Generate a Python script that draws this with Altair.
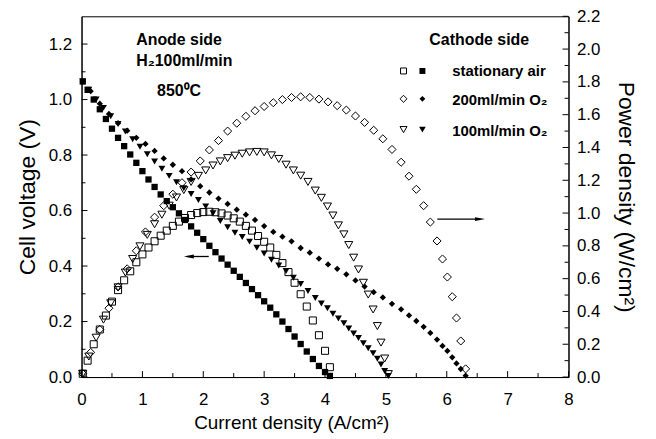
import altair as alt
import pandas as pd

FONT = "Liberation Sans"

series_names = ["stationary air", "200ml/min O2", "100ml/min O2"]

# ---- stationary air (squares) ----
air_i = [0.02, 0.1, 0.2, 0.3, 0.4, 0.5, 0.6, 0.7, 0.8, 0.9, 1.0, 1.1, 1.2, 1.3, 1.4,
         1.5, 1.6, 1.7, 1.8, 1.9, 2.0, 2.1, 2.2, 2.3, 2.4, 2.5, 2.6, 2.7, 2.8, 2.9,
         3.0, 3.1, 3.2, 3.3, 3.4, 3.5, 3.6, 3.7, 3.8, 3.9, 4.0, 4.08]
air_v = [1.065, 1.035, 1.0, 0.965, 0.93, 0.895, 0.862, 0.832, 0.802, 0.772, 0.742,
         0.712, 0.685, 0.658, 0.634, 0.612, 0.59, 0.566, 0.543, 0.52, 0.497, 0.473,
         0.45, 0.427, 0.405, 0.383, 0.361, 0.339, 0.317, 0.295, 0.273, 0.25, 0.226,
         0.2, 0.173, 0.146, 0.119, 0.092, 0.065, 0.04, 0.018, 0.004]
air_p = [0.02, 0.10, 0.2, 0.29, 0.375, 0.46, 0.53, 0.59, 0.645, 0.7, 0.748, 0.79,
         0.828, 0.862, 0.893, 0.922, 0.948, 0.97, 0.988, 1.0, 1.006, 1.008, 1.005,
         0.998, 0.985, 0.968, 0.948, 0.922, 0.893, 0.86, 0.825, 0.79, 0.745, 0.695,
         0.64, 0.575, 0.505, 0.43, 0.345, 0.255, 0.16, 0.06]

# ---- 200 ml/min O2 (diamonds) ----
o2h_i = [0.02, 0.15, 0.3, 0.45, 0.6, 0.75, 0.9, 1.05, 1.2, 1.35, 1.5, 1.65, 1.8, 1.95,
         2.1, 2.25, 2.4, 2.55, 2.7, 2.85, 3.0, 3.15, 3.3, 3.45, 3.6, 3.75, 3.9, 4.05,
         4.2, 4.35, 4.5, 4.65, 4.8, 4.95, 5.1, 5.25, 5.38, 5.5, 5.62, 5.73, 5.84, 5.93,
         6.01, 6.09, 6.16, 6.23, 6.31]
o2h_v = [1.065, 1.03, 0.985, 0.948, 0.915, 0.888, 0.862, 0.84, 0.815, 0.788, 0.765,
         0.742, 0.712, 0.688, 0.665, 0.643, 0.624, 0.603, 0.585, 0.566, 0.544, 0.523,
         0.506, 0.489, 0.465, 0.448, 0.427, 0.406, 0.39, 0.37, 0.348, 0.326, 0.306,
         0.287, 0.264, 0.244, 0.222, 0.202, 0.181, 0.159, 0.135, 0.112, 0.094, 0.071,
         0.049, 0.029, 0.005]
o2h_p = [0.02, 0.15, 0.29, 0.42, 0.55, 0.66, 0.77, 0.885, 0.975, 1.045, 1.115, 1.185,
         1.25, 1.318, 1.385, 1.442, 1.5, 1.548, 1.59, 1.624, 1.65, 1.673, 1.692, 1.705,
         1.709, 1.705, 1.695, 1.678, 1.655, 1.628, 1.592, 1.553, 1.505, 1.453, 1.388,
         1.31, 1.225, 1.145, 1.045, 0.945, 0.83, 0.72, 0.61, 0.49, 0.36, 0.22, 0.05]

# ---- 100 ml/min O2 (down triangles) ----
o2l_i = [0.02, 0.12, 0.24, 0.36, 0.48, 0.6, 0.72, 0.84, 0.96, 1.08, 1.2, 1.32, 1.44,
         1.56, 1.68, 1.8, 1.92, 2.04, 2.16, 2.28, 2.4, 2.52, 2.64, 2.76, 2.88, 3.0,
         3.12, 3.24, 3.36, 3.48, 3.6, 3.72, 3.84, 3.94, 4.04, 4.13, 4.22, 4.31, 4.39,
         4.47, 4.55, 4.63, 4.71, 4.79, 4.86, 4.92, 4.98, 5.04]
o2l_v = [1.065, 1.035, 1.0, 0.97, 0.94, 0.912, 0.885, 0.857, 0.83, 0.803, 0.777, 0.751,
         0.725, 0.702, 0.68, 0.66, 0.638, 0.615, 0.59, 0.562, 0.54, 0.52, 0.505, 0.488,
         0.466, 0.445, 0.423, 0.402, 0.382, 0.358, 0.335, 0.31, 0.285, 0.265, 0.248,
         0.228, 0.211, 0.194, 0.175, 0.157, 0.141, 0.122, 0.104, 0.086, 0.066, 0.045,
         0.022, 0.004]
o2l_p = [0.02, 0.125, 0.24, 0.35, 0.45, 0.547, 0.637, 0.72, 0.797, 0.867, 0.932, 0.99,
         1.045, 1.095, 1.14, 1.19, 1.227, 1.26, 1.29, 1.315, 1.335, 1.35, 1.362, 1.37,
         1.373, 1.37, 1.352, 1.33, 1.295, 1.26, 1.228, 1.19, 1.137, 1.093, 1.04, 0.985,
         0.925, 0.87, 0.805, 0.728, 0.656, 0.575, 0.503, 0.412, 0.311, 0.21, 0.113, 0.018]

# ---- ticks ----
x_ticks = [0, 1, 2, 3, 4, 5, 6, 7, 8]
x_minor = [0.5, 1.5, 2.5, 3.5, 4.5, 5.5, 6.5, 7.5]
v_ticks = [0.0, 0.2, 0.4, 0.6, 0.8, 1.0, 1.2]
v_minor = [0.1, 0.3, 0.5, 0.7, 0.9, 1.1]
p_ticks = [0.0, 0.2, 0.4, 0.6, 0.8, 1.0, 1.2, 1.4, 1.6, 1.8, 2.0, 2.2]
p_minor = [0.1, 0.3, 0.5, 0.7, 0.9, 1.1, 1.3, 1.5, 1.7, 1.9, 2.1]

rows = []
for name, I, V, P in [(series_names[0], air_i, air_v, air_p),
                      (series_names[1], o2h_i, o2h_v, o2h_p),
                      (series_names[2], o2l_i, o2l_v, o2l_p)]:
    for i, v, p in zip(I, V, P):
        rows.append({"series": name, "i": i, "v": v, "p": p})
df = pd.DataFrame(rows)

W, H = 490, 363
xs = alt.Scale(domain=[0, 8], nice=False, zero=False)
vs = alt.Scale(domain=[0, 1.3], nice=False)
ps = alt.Scale(domain=[0, 2.2], nice=False)

x_axis = alt.Axis(values=x_ticks, format="d", title="Current density (A/cm²)",
                  ticks=False, tickSize=0, labelPadding=15, titlePadding=6, titleX=211,
                  labelFontSize=17, titleFontSize=19, labelFlush=False, labelOverlap=False)
v_axis = alt.Axis(values=v_ticks, format=".1f", title="Cell voltage (V)",
                  ticks=False, tickSize=0, labelPadding=10, titlePadding=9,
                  labelFontSize=17, titleFontSize=23, labelOverlap=False)
p_axis = alt.Axis(values=p_ticks, format=".1f", title="Power density (W/cm²)", orient="right",
                  ticks=False, tickSize=0, labelPadding=8, titlePadding=14,
                  labelFontSize=17, titleFontSize=23, labelOverlap=False)

styles = {
    series_names[0]: dict(shape="square", fsize=40, osize=50),
    series_names[1]: dict(shape="diamond", fsize=40, osize=66),
    series_names[2]: dict(shape="triangle-down", fsize=48, osize=66),
}

base = alt.Chart(df)
left_layers = []
right_layers = []
for s in series_names:
    st = styles[s]
    sub = base.transform_filter(alt.datum.series == s)
    left_layers.append(
        sub.mark_point(shape=st["shape"], size=st["fsize"], filled=True, color="black", opacity=1)
        .encode(x=alt.X("i:Q", scale=xs, axis=x_axis),
                y=alt.Y("v:Q", scale=vs, axis=v_axis))
    )
    right_layers.append(
        sub.mark_point(shape=st["shape"], size=st["osize"], filled=False, color="black",
                       strokeWidth=1, opacity=1)
        .encode(x=alt.X("i:Q", scale=xs, axis=x_axis),
                y=alt.Y("p:Q", scale=ps, axis=p_axis))
    )


def rules_x(vals, length):
    return alt.Chart(pd.DataFrame({"t": vals})).mark_rule(color="black", strokeWidth=1).encode(
        x=alt.X("t:Q", scale=xs, axis=x_axis), y=alt.value(H), y2=alt.value(H - length))


def rules_v(vals, length):
    return alt.Chart(pd.DataFrame({"t": vals})).mark_rule(color="black", strokeWidth=1).encode(
        y=alt.Y("t:Q", scale=vs, axis=v_axis), x=alt.value(0), x2=alt.value(length))


def rules_p(vals, length):
    return alt.Chart(pd.DataFrame({"t": vals})).mark_rule(color="black", strokeWidth=1).encode(
        y=alt.Y("t:Q", scale=ps, axis=p_axis), x=alt.value(W), x2=alt.value(W - length))


one = pd.DataFrame({"k": [0]})


def label(text, x, y, size):
    return alt.Chart(pd.DataFrame({"t": [text]})).mark_text(
        align="left", baseline="middle", fontSize=size, fontWeight="bold", font=FONT, color="black"
    ).encode(text="t:N", x=alt.value(x), y=alt.value(y))


def sym(shape, x, y, size, filled):
    return alt.Chart(one).mark_point(shape=shape, size=size, filled=filled, color="black",
                                     strokeWidth=1, opacity=1).encode(x=alt.value(x), y=alt.value(y))


def hline(x1, x2, y):
    return alt.Chart(one).mark_rule(color="black", strokeWidth=1.3).encode(
        x=alt.value(x1), x2=alt.value(x2), y=alt.value(y))


left_layers += [
    rules_x(x_ticks, 6), rules_x(x_minor, 4),
    rules_v(v_ticks, 6), rules_v(v_minor, 4),
    label("Anode side", 55, 24, 16),
    label("H₂100ml/min", 55, 45, 16),
    label("850⁰C", 76, 75, 16),
    label("Cathode side", 350, 24, 16),
    label("stationary air", 373, 55, 15),
    label("200ml/min O₂", 373, 84, 15),
    label("100ml/min O₂", 373, 115, 15),
    sym("square", 324, 55, 36, False), sym("square", 343, 55, 36, True),
    sym("diamond", 324, 83, 50, False), sym("diamond", 343, 83, 34, True),
    sym("triangle-down", 324, 114, 50, False), sym("triangle-down", 343, 114, 44, True),
    hline(106, 128, 241.7),
    sym("M-1,0L1,-0.38L1,0.38Z", 108, 241.7, 100, True),
    hline(358, 400, 204),
    sym("M1,0L-1,-0.38L-1,0.38Z", 401, 204, 100, True),
]
right_layers += [rules_p(p_ticks, 6), rules_p(p_minor, 4)]

left = alt.layer(*left_layers)
right = alt.layer(*right_layers)

chart = (
    alt.layer(left, right)
    .resolve_scale(y="independent")
    .properties(width=W, height=H,
                autosize=alt.AutoSizeParams(type="none"),
                padding={"left": 74, "top": 7, "right": 80, "bottom": 62})
    .configure_view(stroke="black", strokeWidth=1)
    .configure_axis(labelFont=FONT, titleFont=FONT, labelColor="black", titleColor="black",
                    titleFontWeight="normal", domainColor="black", domainWidth=1, grid=False)
)

chart.save("out.html", embed_options={"renderer": "svg", "actions": False})
